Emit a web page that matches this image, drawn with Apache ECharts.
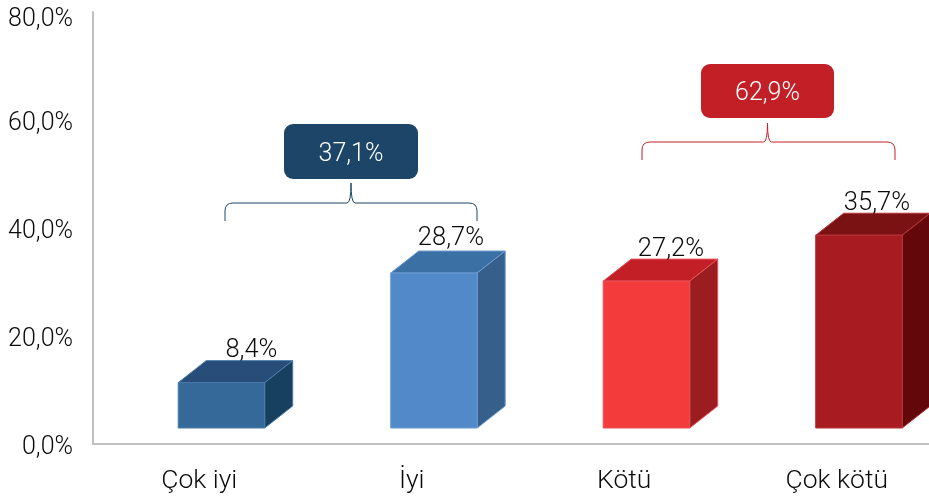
<!DOCTYPE html>
<html><head><meta charset="utf-8">
<style>html,body{margin:0;padding:0;background:#fff}#c{width:929px;height:499px}</style>
<script src="https://cdn.jsdelivr.net/npm/echarts@6/dist/echarts.min.js"></script>
</head><body><div id="c"></div>
<script>
const categories = ['Çok iyi', 'İyi', 'Kötü', 'Çok kötü'];
const values = [8.4, 28.7, 27.2, 35.7];
const valueLabels = ['8,4%', '28,7%', '27,2%', '35,7%'];
const frontColors = ['#34699A', '#5189C9', '#F23B3A', '#A81B20'];
const topColors = ['#274D78', '#3B70A5', '#C22026', '#7A1214'];
const sideColors = ['#173F5F', '#365F8C', '#9C1D20', '#63070A'];
const edgeColors = ['#4A7BA8', '#6A9AD2', '#E8505A', '#B8343A'];
const groupTotals = ['37,1%', '62,9%'];
const groupColors = ['#1C4568', '#C22026'];
const FONT = 'Roboto';
const FS = 25;

const chart = echarts.init(document.getElementById('c'), null, {renderer: 'canvas'});
const DX = 28, DY = 22, BW = 86.5, FLOOR = 16, SHIFT = 22.2;
const labelShift = [30, 17, 24.5, 18];
const labelRise = [10, 12, 9, 10];
const groupBoxes = [
  {x: 284, y: 124, w: 134, h: 55, bx0: 225, bx1: 477, yEnd: 221, yBar: 203, yTip: 183},
  {x: 701, y: 64, w: 133, h: 54, bx0: 642, bx1: 895, yEnd: 160, yBar: 142, yTip: 123}
];

function bar(params, api) {
  const i = api.value(0);
  const p = api.coord([i, api.value(1)]);
  const b = api.coord([i, 0]);
  const xl = p[0] + SHIFT - BW / 2, xr = xl + BW;
  const yt = p[1] - FLOOR, yb = b[1] - FLOOR;
  const st = (c) => ({fill: c, stroke: edgeColors[i], lineWidth: 1});
  return {type: 'group', children: [
    {type: 'polygon', shape: {points: [[xl, yt], [xr, yt], [xr + DX, yt - DY], [xl + DX, yt - DY]]}, style: st(topColors[i])},
    {type: 'polygon', shape: {points: [[xr, yt], [xr + DX, yt - DY], [xr + DX, yb - DY], [xr, yb]]}, style: st(sideColors[i])},
    {type: 'rect', shape: {x: xl, y: yt, width: BW, height: yb - yt}, style: st(frontColors[i])},
    {type: 'text', z2: 5, style: {text: valueLabels[i], x: p[0] + SHIFT + labelShift[i], y: yt - DY - labelRise[i], align: 'center', verticalAlign: 'middle', fill: '#0a0a0a', font: `300 25.5px ${FONT}`}}
  ]};
}

function brace(b) {
  const xm = b.x + b.w / 2, x0 = b.bx0, x1 = b.bx1, yBar = b.yBar, yEnd = b.yEnd, yTip = b.yTip;
  return `M${x0} ${yEnd} L${x0} ${yBar + 8} Q${x0} ${yBar} ${x0 + 8} ${yBar} L${xm - 4} ${yBar} Q${xm} ${yBar} ${xm} ${yTip} Q${xm} ${yBar} ${xm + 4} ${yBar} L${x1 - 8} ${yBar} Q${x1} ${yBar} ${x1} ${yBar + 8} L${x1} ${yEnd}`;
}
function group(params, api) {
  const i = api.value(0), b = groupBoxes[i];
  return {type: 'group', children: [
    {type: 'rect', shape: {x: b.x, y: b.y, width: b.w, height: b.h, r: 9}, style: {fill: groupColors[i]}},
    {type: 'text', style: {text: groupTotals[i], x: b.x + b.w / 2, y: b.y + b.h / 2 + 3, align: 'center', verticalAlign: 'middle', fill: '#fff', font: `300 ${FS}px ${FONT}`}},
    {type: 'path', shape: {pathData: brace(b)}, style: {fill: 'none', stroke: groupColors[i], lineWidth: 1}}
  ]};
}

const labelFont = {color: '#0a0a0a', fontFamily: FONT, fontWeight: 300, fontSize: FS};
chart.setOption({
  animation: false,
  grid: {left: 93, top: 12, width: 850, height: 432, outerBoundsMode: 'none'},
  xAxis: {type: 'category', data: categories,
    axisTick: {show: false}, axisLine: {lineStyle: {color: '#BFBFBF', width: 2}},
    axisLabel: {...labelFont, fontSize: 26.5, margin: 24}},
  yAxis: {type: 'value', min: 0, max: 80, interval: 20,
    axisLine: {show: true, lineStyle: {color: '#BFBFBF', width: 2}}, axisTick: {show: false}, splitLine: {show: false},
    axisLabel: {...labelFont, margin: 20,
      rich: {top: {...labelFont, padding: [16, 0, 0, 0]}, std: {...labelFont, padding: [8, 0, 0, 0]}},
      formatter: v => { const s = v.toFixed(1).replace('.', ',') + '%'; return v === 80 ? `{top|${s}}` : `{std|${s}}`; }}},
  series: [
    {type: 'custom', renderItem: bar, clip: false, data: values.map((v, i) => [i, v]), encode: {x: 0, y: 1}},
    {type: 'custom', renderItem: group, clip: false, silent: true, data: [[0, 0], [1, 0]], encode: {x: 0, y: 1}}
  ]
});
</script></body></html>
